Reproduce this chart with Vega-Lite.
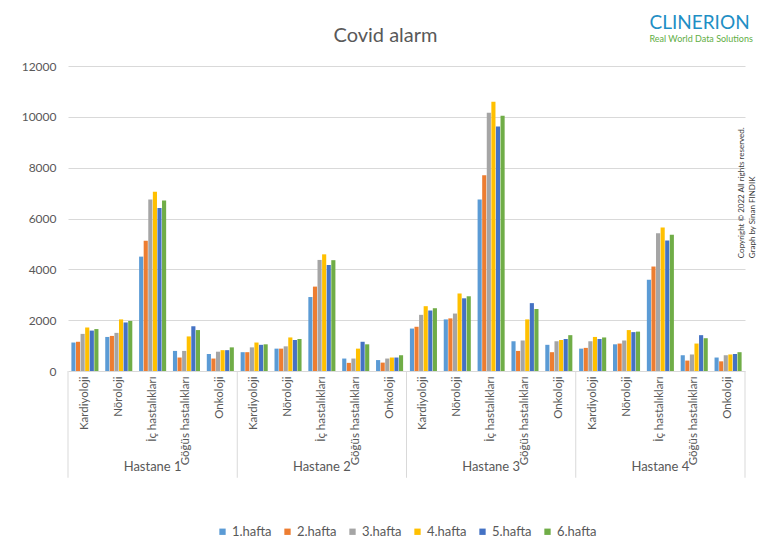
{
  "$schema": "https://vega.github.io/schema/vega-lite/v6.json",
  "width": 677,
  "height": 305,
  "autosize": {"type": "none"},
  "padding": {"left": 68, "top": 66, "right": 16, "bottom": 181},
  "background": "white",
  "title": {
    "text": "Covid alarm",
    "font": "Lato",
    "fontSize": 20,
    "fontWeight": "normal",
    "color": "#595959",
    "anchor": "middle",
    "dx": -21,
    "offset": -48,
    "baseline": "alphabetic"
  },
  "config": {
    "view": {"stroke": null},
    "legend": {"layout": {"bottom": {"anchor": "middle"}}}
  },
  "data": {
    "values": [
      {"h": "Hastane 1", "d": "Kardiyoloji", "w": "1.hafta", "v": 1120},
      {"h": "Hastane 1", "d": "Kardiyoloji", "w": "2.hafta", "v": 1150},
      {"h": "Hastane 1", "d": "Kardiyoloji", "w": "3.hafta", "v": 1460},
      {"h": "Hastane 1", "d": "Kardiyoloji", "w": "4.hafta", "v": 1710},
      {"h": "Hastane 1", "d": "Kardiyoloji", "w": "5.hafta", "v": 1590},
      {"h": "Hastane 1", "d": "Kardiyoloji", "w": "6.hafta", "v": 1650},
      {"h": "Hastane 1", "d": "Nöroloji", "w": "1.hafta", "v": 1340},
      {"h": "Hastane 1", "d": "Nöroloji", "w": "2.hafta", "v": 1380},
      {"h": "Hastane 1", "d": "Nöroloji", "w": "3.hafta", "v": 1500},
      {"h": "Hastane 1", "d": "Nöroloji", "w": "4.hafta", "v": 2030},
      {"h": "Hastane 1", "d": "Nöroloji", "w": "5.hafta", "v": 1910},
      {"h": "Hastane 1", "d": "Nöroloji", "w": "6.hafta", "v": 1970},
      {"h": "Hastane 1", "d": "İç hastalıkları", "w": "1.hafta", "v": 4500},
      {"h": "Hastane 1", "d": "İç hastalıkları", "w": "2.hafta", "v": 5120},
      {"h": "Hastane 1", "d": "İç hastalıkları", "w": "3.hafta", "v": 6750},
      {"h": "Hastane 1", "d": "İç hastalıkları", "w": "4.hafta", "v": 7050},
      {"h": "Hastane 1", "d": "İç hastalıkları", "w": "5.hafta", "v": 6410},
      {"h": "Hastane 1", "d": "İç hastalıkları", "w": "6.hafta", "v": 6710},
      {"h": "Hastane 1", "d": "Göğüs hastalıkları", "w": "1.hafta", "v": 790},
      {"h": "Hastane 1", "d": "Göğüs hastalıkları", "w": "2.hafta", "v": 530},
      {"h": "Hastane 1", "d": "Göğüs hastalıkları", "w": "3.hafta", "v": 790},
      {"h": "Hastane 1", "d": "Göğüs hastalıkları", "w": "4.hafta", "v": 1360},
      {"h": "Hastane 1", "d": "Göğüs hastalıkları", "w": "5.hafta", "v": 1760},
      {"h": "Hastane 1", "d": "Göğüs hastalıkları", "w": "6.hafta", "v": 1610},
      {"h": "Hastane 1", "d": "Onkoloji", "w": "1.hafta", "v": 670},
      {"h": "Hastane 1", "d": "Onkoloji", "w": "2.hafta", "v": 490},
      {"h": "Hastane 1", "d": "Onkoloji", "w": "3.hafta", "v": 760},
      {"h": "Hastane 1", "d": "Onkoloji", "w": "4.hafta", "v": 820},
      {"h": "Hastane 1", "d": "Onkoloji", "w": "5.hafta", "v": 820},
      {"h": "Hastane 1", "d": "Onkoloji", "w": "6.hafta", "v": 930},
      {"h": "Hastane 2", "d": "Kardiyoloji", "w": "1.hafta", "v": 740},
      {"h": "Hastane 2", "d": "Kardiyoloji", "w": "2.hafta", "v": 740},
      {"h": "Hastane 2", "d": "Kardiyoloji", "w": "3.hafta", "v": 930},
      {"h": "Hastane 2", "d": "Kardiyoloji", "w": "4.hafta", "v": 1120},
      {"h": "Hastane 2", "d": "Kardiyoloji", "w": "5.hafta", "v": 1030},
      {"h": "Hastane 2", "d": "Kardiyoloji", "w": "6.hafta", "v": 1050},
      {"h": "Hastane 2", "d": "Nöroloji", "w": "1.hafta", "v": 880},
      {"h": "Hastane 2", "d": "Nöroloji", "w": "2.hafta", "v": 880},
      {"h": "Hastane 2", "d": "Nöroloji", "w": "3.hafta", "v": 970},
      {"h": "Hastane 2", "d": "Nöroloji", "w": "4.hafta", "v": 1320},
      {"h": "Hastane 2", "d": "Nöroloji", "w": "5.hafta", "v": 1220},
      {"h": "Hastane 2", "d": "Nöroloji", "w": "6.hafta", "v": 1260},
      {"h": "Hastane 2", "d": "İç hastalıkları", "w": "1.hafta", "v": 2910},
      {"h": "Hastane 2", "d": "İç hastalıkları", "w": "2.hafta", "v": 3320},
      {"h": "Hastane 2", "d": "İç hastalıkları", "w": "3.hafta", "v": 4370},
      {"h": "Hastane 2", "d": "İç hastalıkları", "w": "4.hafta", "v": 4590},
      {"h": "Hastane 2", "d": "İç hastalıkları", "w": "5.hafta", "v": 4170},
      {"h": "Hastane 2", "d": "İç hastalıkları", "w": "6.hafta", "v": 4360},
      {"h": "Hastane 2", "d": "Göğüs hastalıkları", "w": "1.hafta", "v": 490},
      {"h": "Hastane 2", "d": "Göğüs hastalıkları", "w": "2.hafta", "v": 320},
      {"h": "Hastane 2", "d": "Göğüs hastalıkları", "w": "3.hafta", "v": 490},
      {"h": "Hastane 2", "d": "Göğüs hastalıkları", "w": "4.hafta", "v": 880},
      {"h": "Hastane 2", "d": "Göğüs hastalıkları", "w": "5.hafta", "v": 1150},
      {"h": "Hastane 2", "d": "Göğüs hastalıkları", "w": "6.hafta", "v": 1050},
      {"h": "Hastane 2", "d": "Onkoloji", "w": "1.hafta", "v": 430},
      {"h": "Hastane 2", "d": "Onkoloji", "w": "2.hafta", "v": 330},
      {"h": "Hastane 2", "d": "Onkoloji", "w": "3.hafta", "v": 490},
      {"h": "Hastane 2", "d": "Onkoloji", "w": "4.hafta", "v": 530},
      {"h": "Hastane 2", "d": "Onkoloji", "w": "5.hafta", "v": 530},
      {"h": "Hastane 2", "d": "Onkoloji", "w": "6.hafta", "v": 620},
      {"h": "Hastane 3", "d": "Kardiyoloji", "w": "1.hafta", "v": 1670},
      {"h": "Hastane 3", "d": "Kardiyoloji", "w": "2.hafta", "v": 1740},
      {"h": "Hastane 3", "d": "Kardiyoloji", "w": "3.hafta", "v": 2210},
      {"h": "Hastane 3", "d": "Kardiyoloji", "w": "4.hafta", "v": 2550},
      {"h": "Hastane 3", "d": "Kardiyoloji", "w": "5.hafta", "v": 2380},
      {"h": "Hastane 3", "d": "Kardiyoloji", "w": "6.hafta", "v": 2470},
      {"h": "Hastane 3", "d": "Nöroloji", "w": "1.hafta", "v": 2030},
      {"h": "Hastane 3", "d": "Nöroloji", "w": "2.hafta", "v": 2070},
      {"h": "Hastane 3", "d": "Nöroloji", "w": "3.hafta", "v": 2260},
      {"h": "Hastane 3", "d": "Nöroloji", "w": "4.hafta", "v": 3050},
      {"h": "Hastane 3", "d": "Nöroloji", "w": "5.hafta", "v": 2860},
      {"h": "Hastane 3", "d": "Nöroloji", "w": "6.hafta", "v": 2940},
      {"h": "Hastane 3", "d": "İç hastalıkları", "w": "1.hafta", "v": 6750},
      {"h": "Hastane 3", "d": "İç hastalıkları", "w": "2.hafta", "v": 7700},
      {"h": "Hastane 3", "d": "İç hastalıkları", "w": "3.hafta", "v": 10160},
      {"h": "Hastane 3", "d": "İç hastalıkları", "w": "4.hafta", "v": 10590},
      {"h": "Hastane 3", "d": "İç hastalıkları", "w": "5.hafta", "v": 9620},
      {"h": "Hastane 3", "d": "İç hastalıkları", "w": "6.hafta", "v": 10040},
      {"h": "Hastane 3", "d": "Göğüs hastalıkları", "w": "1.hafta", "v": 1170},
      {"h": "Hastane 3", "d": "Göğüs hastalıkları", "w": "2.hafta", "v": 790},
      {"h": "Hastane 3", "d": "Göğüs hastalıkları", "w": "3.hafta", "v": 1200},
      {"h": "Hastane 3", "d": "Göğüs hastalıkları", "w": "4.hafta", "v": 2030},
      {"h": "Hastane 3", "d": "Göğüs hastalıkları", "w": "5.hafta", "v": 2670},
      {"h": "Hastane 3", "d": "Göğüs hastalıkları", "w": "6.hafta", "v": 2440},
      {"h": "Hastane 3", "d": "Onkoloji", "w": "1.hafta", "v": 1030},
      {"h": "Hastane 3", "d": "Onkoloji", "w": "2.hafta", "v": 740},
      {"h": "Hastane 3", "d": "Onkoloji", "w": "3.hafta", "v": 1170},
      {"h": "Hastane 3", "d": "Onkoloji", "w": "4.hafta", "v": 1220},
      {"h": "Hastane 3", "d": "Onkoloji", "w": "5.hafta", "v": 1260},
      {"h": "Hastane 3", "d": "Onkoloji", "w": "6.hafta", "v": 1410},
      {"h": "Hastane 4", "d": "Kardiyoloji", "w": "1.hafta", "v": 880},
      {"h": "Hastane 4", "d": "Kardiyoloji", "w": "2.hafta", "v": 910},
      {"h": "Hastane 4", "d": "Kardiyoloji", "w": "3.hafta", "v": 1170},
      {"h": "Hastane 4", "d": "Kardiyoloji", "w": "4.hafta", "v": 1340},
      {"h": "Hastane 4", "d": "Kardiyoloji", "w": "5.hafta", "v": 1260},
      {"h": "Hastane 4", "d": "Kardiyoloji", "w": "6.hafta", "v": 1320},
      {"h": "Hastane 4", "d": "Nöroloji", "w": "1.hafta", "v": 1050},
      {"h": "Hastane 4", "d": "Nöroloji", "w": "2.hafta", "v": 1080},
      {"h": "Hastane 4", "d": "Nöroloji", "w": "3.hafta", "v": 1200},
      {"h": "Hastane 4", "d": "Nöroloji", "w": "4.hafta", "v": 1610},
      {"h": "Hastane 4", "d": "Nöroloji", "w": "5.hafta", "v": 1530},
      {"h": "Hastane 4", "d": "Nöroloji", "w": "6.hafta", "v": 1550},
      {"h": "Hastane 4", "d": "İç hastalıkları", "w": "1.hafta", "v": 3590},
      {"h": "Hastane 4", "d": "İç hastalıkları", "w": "2.hafta", "v": 4110},
      {"h": "Hastane 4", "d": "İç hastalıkları", "w": "3.hafta", "v": 5420},
      {"h": "Hastane 4", "d": "İç hastalıkları", "w": "4.hafta", "v": 5650},
      {"h": "Hastane 4", "d": "İç hastalıkları", "w": "5.hafta", "v": 5130},
      {"h": "Hastane 4", "d": "İç hastalıkları", "w": "6.hafta", "v": 5360},
      {"h": "Hastane 4", "d": "Göğüs hastalıkları", "w": "1.hafta", "v": 620},
      {"h": "Hastane 4", "d": "Göğüs hastalıkları", "w": "2.hafta", "v": 410},
      {"h": "Hastane 4", "d": "Göğüs hastalıkları", "w": "3.hafta", "v": 650},
      {"h": "Hastane 4", "d": "Göğüs hastalıkları", "w": "4.hafta", "v": 1080},
      {"h": "Hastane 4", "d": "Göğüs hastalıkları", "w": "5.hafta", "v": 1410},
      {"h": "Hastane 4", "d": "Göğüs hastalıkları", "w": "6.hafta", "v": 1290},
      {"h": "Hastane 4", "d": "Onkoloji", "w": "1.hafta", "v": 530},
      {"h": "Hastane 4", "d": "Onkoloji", "w": "2.hafta", "v": 380},
      {"h": "Hastane 4", "d": "Onkoloji", "w": "3.hafta", "v": 620},
      {"h": "Hastane 4", "d": "Onkoloji", "w": "4.hafta", "v": 650},
      {"h": "Hastane 4", "d": "Onkoloji", "w": "5.hafta", "v": 670},
      {"h": "Hastane 4", "d": "Onkoloji", "w": "6.hafta", "v": 740}
    ]
  },
  "transform": [{"calculate": "datum.h + '|' + datum.d", "as": "key"}],
  "layer": [
    {
      "mark": {"type": "bar"},
      "encoding": {
        "x": {
          "field": "key",
          "type": "nominal",
          "scale": {
            "domain": [
              "Hastane 1|Kardiyoloji", "Hastane 1|Nöroloji", "Hastane 1|İç hastalıkları", "Hastane 1|Göğüs hastalıkları", "Hastane 1|Onkoloji",
              "Hastane 2|Kardiyoloji", "Hastane 2|Nöroloji", "Hastane 2|İç hastalıkları", "Hastane 2|Göğüs hastalıkları", "Hastane 2|Onkoloji",
              "Hastane 3|Kardiyoloji", "Hastane 3|Nöroloji", "Hastane 3|İç hastalıkları", "Hastane 3|Göğüs hastalıkları", "Hastane 3|Onkoloji",
              "Hastane 4|Kardiyoloji", "Hastane 4|Nöroloji", "Hastane 4|İç hastalıkları", "Hastane 4|Göğüs hastalıkları", "Hastane 4|Onkoloji"
            ],
            "paddingInner": 0,
            "paddingOuter": 0
          },
          "axis": {
            "title": null,
            "labelExpr": "split(datum.label, '|')[1]",
            "labelAngle": -90,
            "labelFont": "Lato",
            "labelFontSize": 11.5,
            "labelColor": "#595959",
            "labelPadding": 5,
            "ticks": false,
            "domain": false,
            "grid": false
          }
        },
        "xOffset": {
          "field": "w",
          "type": "nominal",
          "scale": {"paddingInner": 0.1, "paddingOuter": 0.74}
        },
        "y": {
          "field": "v",
          "type": "quantitative",
          "scale": {"domain": [0, 12000], "nice": false},
          "axis": {
            "title": null,
            "values": [0, 2000, 4000, 6000, 8000, 10000, 12000],
            "format": "d",
            "labelFont": "Lato",
            "labelFontSize": 12,
            "labelColor": "#595959",
            "labelPadding": 12,
            "ticks": false,
            "domain": false,
            "gridColor": "#d9d9d9",
            "gridWidth": 1
          }
        },
        "color": {
          "field": "w",
          "type": "nominal",
          "scale": {
            "domain": ["1.hafta", "2.hafta", "3.hafta", "4.hafta", "5.hafta", "6.hafta"],
            "range": ["#5b9bd5", "#ed7d31", "#a5a5a5", "#ffc000", "#4472c4", "#70ad47"]
          },
          "legend": {
            "title": null,
            "orient": "bottom",
            "direction": "horizontal",
            "offset": 60,
            "symbolType": "square",
            "symbolSize": 40,
            "symbolStrokeWidth": 0,
            "labelFont": "Lato",
            "labelFontSize": 13,
            "labelColor": "#595959",
            "labelOffset": 3,
            "columnPadding": 9
          }
        }
      }
    },
    {
      "transform": [{"filter": "datum.d == 'Kardiyoloji' && datum.w == '1.hafta'"}],
      "mark": {"type": "rule", "color": "#d9d9d9", "strokeWidth": 1},
      "encoding": {
        "x": {"field": "key", "type": "nominal", "bandPosition": 0},
        "y": {"datum": 0},
        "y2": {"datum": -4200}
      }
    },
    {
      "transform": [{"filter": "datum.h == 'Hastane 4' && datum.d == 'Onkoloji' && datum.w == '1.hafta'"}],
      "mark": {"type": "rule", "color": "#d9d9d9", "strokeWidth": 1},
      "encoding": {
        "x": {"field": "key", "type": "nominal", "bandPosition": 1},
        "y": {"datum": 0},
        "y2": {"datum": -4200}
      }
    },
    {
      "transform": [{"filter": "datum.d == 'İç hastalıkları' && datum.w == '1.hafta'"}],
      "mark": {"type": "text", "font": "Lato", "fontSize": 13, "color": "#595959", "baseline": "middle", "align": "center"},
      "encoding": {
        "x": {"field": "key", "type": "nominal"},
        "y": {"datum": -3770},
        "text": {"field": "h"}
      }
    },
    {
      "data": {"values": [{"label": "Copyright © 2022 All rights reserved."}]},
      "mark": {"type": "text", "font": "Lato", "fontSize": 8, "color": "#404040", "angle": 270, "align": "left", "baseline": "alphabetic", "dy": -1},
      "encoding": {
        "x": {"datum": "Hastane 4|Onkoloji", "type": "nominal", "bandPosition": 1},
        "y": {"datum": 4440},
        "text": {"field": "label"}
      }
    },
    {
      "data": {"values": [{"label": "Graph by Sinan FINDIK"}]},
      "mark": {"type": "text", "font": "Lato", "fontSize": 8, "color": "#404040", "angle": 270, "align": "left", "baseline": "alphabetic", "dy": 10},
      "encoding": {
        "x": {"datum": "Hastane 4|Onkoloji", "type": "nominal", "bandPosition": 1},
        "y": {"datum": 4440},
        "text": {"field": "label"}
      }
    },
    {
      "data": {"values": [{"label": "CLINERION"}]},
      "mark": {"type": "text", "font": "Lato", "fontSize": 19, "color": "#1f8fc5", "align": "left", "baseline": "alphabetic", "dx": 6},
      "encoding": {
        "x": {"datum": "Hastane 4|İç hastalıkları", "type": "nominal", "bandPosition": 0},
        "y": {"datum": 13454},
        "text": {"field": "label"}
      }
    },
    {
      "data": {"values": [{"label": "Real World Data Solutions"}]},
      "mark": {"type": "text", "font": "Lato", "fontSize": 9, "color": "#5fae45", "align": "left", "baseline": "alphabetic", "dx": 6},
      "encoding": {
        "x": {"datum": "Hastane 4|İç hastalıkları", "type": "nominal", "bandPosition": 0},
        "y": {"datum": 12963},
        "text": {"field": "label"}
      }
    }
  ]
}
